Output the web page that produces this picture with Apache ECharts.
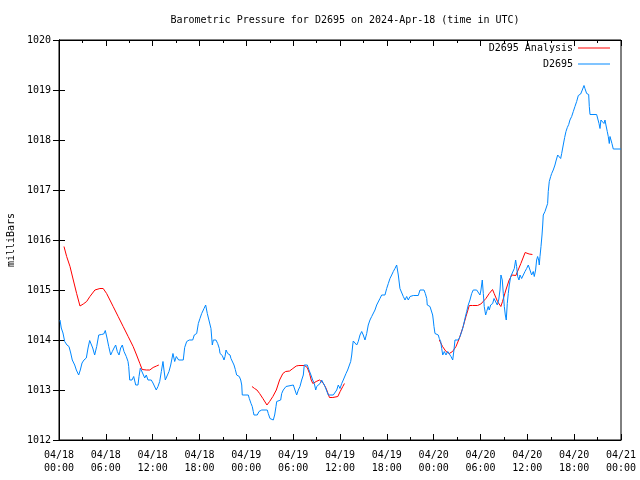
<!DOCTYPE html>
<html><head><meta charset="utf-8">
<script src="https://cdn.jsdelivr.net/npm/echarts@6/dist/echarts.min.js"></script>
<style>html,body{margin:0;padding:0;background:#fff}#c{width:640px;height:480px}</style>
</head><body><div id="c"></div>
<script>
// x values are hours since 2024-04-18 00:00 UTC
var xTickLabels = ['04/18\n00:00','04/18\n06:00','04/18\n12:00','04/18\n18:00','04/19\n00:00','04/19\n06:00','04/19\n12:00','04/19\n18:00','04/20\n00:00','04/20\n06:00','04/20\n12:00','04/20\n18:00','04/21\n00:00'];
var seriesNames = ['D2695 Analysis', 'D2695'];

var analysisHours = [0.64,0.98,1.41,1.83,2.26,2.69,3.11,3.54,3.96,4.6,5.24,5.66,6.1,6.52,6.94,7.58,8.22,8.86,9.5,9.94,10.36,10.65,11.2,11.63,12.06,12.49,12.79,
  18.0,
  24.72,25.06,25.36,25.7,26.12,26.64,26.98,27.4,27.84,28.26,28.68,29.03,29.54,29.96,30.4,30.73,31.46,31.8,32.1,32.31,32.52,32.95,33.38,33.59,33.89,34.23,34.65,35.08,35.72,36.02,36.36,36.57,
  42.0,
  48.72,49.14,49.58,50.0,50.42,50.86,51.28,51.7,52.14,52.56,52.98,53.62,54.05,54.26,54.69,55.12,55.54,55.75,56.18,56.61,56.82,57.25,57.67,58.02,58.53,58.73,59.17,59.72,60.23,60.65];
var analysisValues = [1015.87,1015.67,1015.47,1015.2,1014.93,1014.68,1014.72,1014.77,1014.87,1015.0,1015.03,1015.03,1014.93,1014.8,1014.67,1014.47,1014.27,1014.07,1013.87,1013.7,1013.53,1013.41,1013.4,1013.4,1013.45,1013.48,1013.5,
  null,
  1013.07,1013.03,1013.0,1012.93,1012.83,1012.7,1012.77,1012.87,1013.0,1013.2,1013.33,1013.37,1013.38,1013.43,1013.48,1013.49,1013.49,1013.45,1013.33,1013.2,1013.13,1013.17,1013.2,1013.2,1013.13,1013.03,1012.85,1012.85,1012.87,1012.97,1013.07,1013.13,
  null,
  1014.0,1013.87,1013.77,1013.73,1013.77,1013.87,1014.03,1014.23,1014.47,1014.69,1014.69,1014.69,1014.72,1014.73,1014.83,1014.93,1015.01,1014.93,1014.77,1014.67,1014.77,1015.0,1015.2,1015.3,1015.29,1015.33,1015.53,1015.75,1015.72,1015.71];

var stationHours = [0.13,0.29,0.51,0.73,1.02,1.28,1.5,1.7,2.01,2.22,2.52,2.73,2.95,3.2,3.5,3.72,3.93,4.14,4.32,4.57,4.83,5.09,5.42,5.73,5.93,6.15,6.37,6.62,6.83,7.05,7.26,7.47,7.69,7.9,8.11,8.33,8.62,8.84,8.93,9.06,9.35,9.57,9.83,10.12,10.25,10.42,10.54,10.76,10.98,11.18,11.4,11.62,11.82,12.04,12.26,12.46,12.68,12.9,13.11,13.32,13.45,13.62,13.87,14.09,14.31,14.6,14.82,15.03,15.33,15.92,16.1,16.36,16.69,17.13,17.33,17.64,17.85,18.06,18.28,18.58,18.79,19.0,19.25,19.47,19.64,19.77,20.11,20.33,20.54,20.63,20.92,21.14,21.27,21.4,21.61,21.91,22.03,22.25,22.42,22.59,22.76,23.1,23.28,23.41,23.48,24.25,24.38,24.6,24.76,24.89,24.98,25.4,25.62,25.97,26.68,26.81,27.03,27.25,27.45,27.63,27.8,27.89,28.09,28.4,28.53,28.73,29.08,29.3,30.02,30.23,30.45,30.66,30.87,31.09,31.3,31.42,31.81,32.03,32.28,32.5,32.71,32.89,33.01,33.22,33.44,33.65,33.86,34.08,34.3,34.5,35.14,35.36,35.58,35.78,36.0,36.22,36.42,36.64,36.77,36.98,37.19,37.37,37.5,37.63,37.7,37.92,38.14,38.34,38.56,38.78,38.98,39.2,39.42,39.62,39.84,40.06,40.26,40.48,40.7,40.9,41.12,41.34,41.76,41.98,42.19,42.4,42.62,42.83,43.04,43.26,43.47,43.68,43.9,44.11,44.33,44.54,44.75,44.97,45.39,46.03,46.25,46.76,46.93,47.11,47.18,47.53,47.75,47.87,47.95,48.04,48.17,48.39,48.59,48.72,48.9,49.03,49.16,49.36,49.58,49.8,50.0,50.22,50.44,50.6,50.73,51.15,51.37,51.59,51.79,52.01,52.23,52.43,52.65,52.87,53.07,53.51,53.72,53.93,54.06,54.23,54.36,54.48,54.66,54.79,54.99,55.12,55.3,55.56,55.73,55.98,56.15,56.33,56.5,56.62,56.79,56.92,57.05,57.18,57.3,57.43,57.56,57.69,57.87,58.12,58.33,58.5,58.63,58.76,58.93,59.06,59.27,59.48,59.7,59.91,60.12,60.34,60.55,60.76,60.89,61.06,61.19,61.32,61.45,61.53,61.62,61.75,61.88,61.97,62.04,62.26,62.48,62.6,62.68,62.81,62.99,63.12,63.32,63.54,63.67,63.89,64.05,64.27,64.4,64.6,64.78,64.95,65.12,65.3,65.46,65.68,65.89,66.1,66.32,66.53,66.83,67.04,67.26,67.38,67.6,67.86,67.94,68.03,68.88,69.09,69.18,69.31,69.43,69.6,69.82,69.95,70.07,70.24,70.37,70.5,70.59,70.71,70.84,71.01,72.0];
var stationValues = [1014.4,1014.24,1014.14,1013.97,1013.9,1013.87,1013.74,1013.6,1013.5,1013.4,1013.3,1013.4,1013.54,1013.6,1013.64,1013.84,1013.99,1013.99,1013.84,1013.7,1013.87,1014.1,1014.11,1014.12,1014.19,1014.04,1013.87,1013.7,1013.77,1013.84,1013.9,1013.77,1013.7,1013.84,1013.9,1013.77,1013.67,1013.57,1013.47,1013.2,1013.2,1013.27,1013.1,1013.1,1013.27,1013.44,1013.47,1013.32,1013.24,1013.3,1013.2,1013.17,1013.2,1013.14,1013.1,1013.0,1013.07,1013.17,1013.37,1013.57,1013.4,1013.2,1013.2,1013.37,1013.5,1013.73,1013.57,1013.67,1013.6,1013.6,1013.85,1013.97,1014.0,1014.0,1014.1,1014.13,1014.33,1014.43,1014.53,1014.63,1014.7,1014.53,1014.5,1014.23,1013.9,1014.0,1014.0,1013.93,1013.83,1013.73,1013.69,1013.6,1013.67,1013.8,1013.73,1013.7,1013.63,1013.6,1013.5,1013.41,1013.3,1013.27,1013.2,1013.1,1012.9,1012.9,1012.83,1012.73,1012.67,1012.57,1012.5,1012.5,1012.57,1012.6,1012.6,1012.53,1012.43,1012.4,1012.4,1012.5,1012.67,1012.77,1012.8,1012.8,1012.93,1013.0,1013.07,1013.1,1013.1,1013.0,1012.9,1013.0,1013.07,1013.2,1013.3,1013.5,1013.5,1013.4,1013.3,1013.2,1013.13,1013.0,1013.07,1013.1,1013.13,1013.2,1013.17,1013.07,1013.03,1012.9,1012.9,1012.93,1013.0,1013.1,1013.03,1013.13,1013.2,1013.23,1013.33,1013.4,1013.43,1013.57,1013.7,1013.9,1013.98,1013.98,1013.9,1013.97,1014.1,1014.17,1014.1,1014.0,1014.13,1014.3,1014.4,1014.47,1014.5,1014.6,1014.7,1014.73,1014.83,1014.9,1014.9,1015.03,1015.13,1015.23,1015.3,1015.37,1015.43,1015.5,1015.3,1015.03,1015.0,1014.87,1014.8,1014.87,1014.8,1014.87,1014.89,1014.89,1015.0,1015.0,1014.93,1014.83,1014.7,1014.67,1014.65,1014.5,1014.4,1014.27,1014.13,1014.17,1014.1,1014.03,1013.97,1013.83,1013.7,1013.77,1013.7,1013.77,1013.73,1013.67,1013.6,1013.8,1014.0,1014.0,1014.07,1014.17,1014.27,1014.43,1014.57,1014.7,1014.8,1014.93,1015.0,1015.0,1014.97,1014.9,1015.0,1015.2,1014.93,1014.67,1014.5,1014.57,1014.67,1014.6,1014.7,1014.73,1014.83,1014.8,1014.7,1014.8,1015.0,1015.3,1015.2,1014.93,1014.67,1014.5,1014.4,1014.73,1014.93,1015.1,1015.27,1015.27,1015.43,1015.6,1015.47,1015.27,1015.2,1015.3,1015.23,1015.2,1015.37,1015.43,1015.5,1015.4,1015.3,1015.37,1015.27,1015.4,1015.6,1015.67,1015.6,1015.5,1015.67,1015.87,1016.1,1016.3,1016.5,1016.57,1016.6,1016.73,1016.97,1017.17,1017.27,1017.33,1017.4,1017.5,1017.58,1017.7,1017.71,1017.63,1017.73,1017.9,1018.05,1018.17,1018.25,1018.31,1018.4,1018.47,1018.57,1018.67,1018.77,1018.89,1018.92,1019.0,1019.09,1019.03,1018.93,1018.91,1018.67,1018.51,1018.51,1018.47,1018.33,1018.23,1018.4,1018.37,1018.33,1018.4,1018.3,1018.17,1018.07,1017.93,1018.07,1018.03,1017.93,1017.82,1017.82];

function pairs(xs, ys) { return xs.map(function (x, i) { return [x, ys[i]]; }); }

var FONT = 'DejaVu Sans Mono';
var black = '#000';
function xAx(pos, showLabel) {
  return {
    type: 'value', min: 0, max: 72, interval: 6, position: pos,
    axisLine: { show: true, lineStyle: { color: black, width: 1 } },
    axisTick: { show: true, inside: true, length: 6, lineStyle: { color: black } },
    minorTick: { show: true, splitNumber: 2, length: 3, lineStyle: { color: black } },
    splitLine: { show: false }, minorSplitLine: { show: false },
    axisLabel: {
      show: showLabel, fontFamily: FONT, fontSize: 10, color: black, lineHeight: 13, margin: 9,
      formatter: function (v) { return xTickLabels[Math.round(v / 6)]; }
    }
  };
}
function yAx(pos, showLabel) {
  return {
    type: 'value', min: 1012, max: 1020, interval: 1, position: pos,
    name: showLabel ? 'milliBars' : '', nameLocation: 'middle', nameGap: 40, nameRotate: 90,
    nameTextStyle: { fontFamily: FONT, fontSize: 10, color: black },
    axisLine: { show: true, lineStyle: { color: black, width: 1 } },
    axisTick: { show: true, inside: true, length: 6, lineStyle: { color: black } },
    splitLine: { show: false },
    axisLabel: { show: showLabel, fontFamily: FONT, fontSize: 10, color: black, margin: 8,
      formatter: function (v) { return String(v); } }
  };
}

var chart = echarts.init(document.getElementById('c'), null, { renderer: 'canvas' });
chart.setOption({
  animation: false,
  backgroundColor: '#fff',
  title: {
    text: 'Barometric Pressure for D2695 on 2024-Apr-18 (time in UTC)',
    left: 340, top: 10, textAlign: 'center',
    textStyle: { fontFamily: FONT, fontSize: 10, fontWeight: 'normal', color: black }
  },
  legend: {
    data: seriesNames, orient: 'vertical', right: 30, top: 43, padding: 0,
    align: 'right', icon: 'rect', itemWidth: 32, itemHeight: 1, itemGap: 6,
    textStyle: { fontFamily: FONT, fontSize: 10, color: black, lineHeight: 10 }
  },
  grid: { left: 59, right: 19, top: 40, bottom: 40, show: true, borderColor: black, borderWidth: 1,
    containLabel: false, outerBoundsMode: 'none' },
  xAxis: [xAx('bottom', true), xAx('top', false)],
  yAxis: [yAx('left', true), yAx('right', false)],
  series: [
    { name: seriesNames[0], type: 'line', data: pairs(analysisHours, analysisValues), showSymbol: false, symbol: 'none',
      connectNulls: false, lineStyle: { color: '#ff0000', width: 1 }, itemStyle: { color: '#ff0000' } },
    { name: seriesNames[1], type: 'line', data: pairs(stationHours, stationValues), showSymbol: false, symbol: 'none',
      lineStyle: { color: '#0088ff', width: 1 }, itemStyle: { color: '#0088ff' } }
  ]
});
</script></body></html>
